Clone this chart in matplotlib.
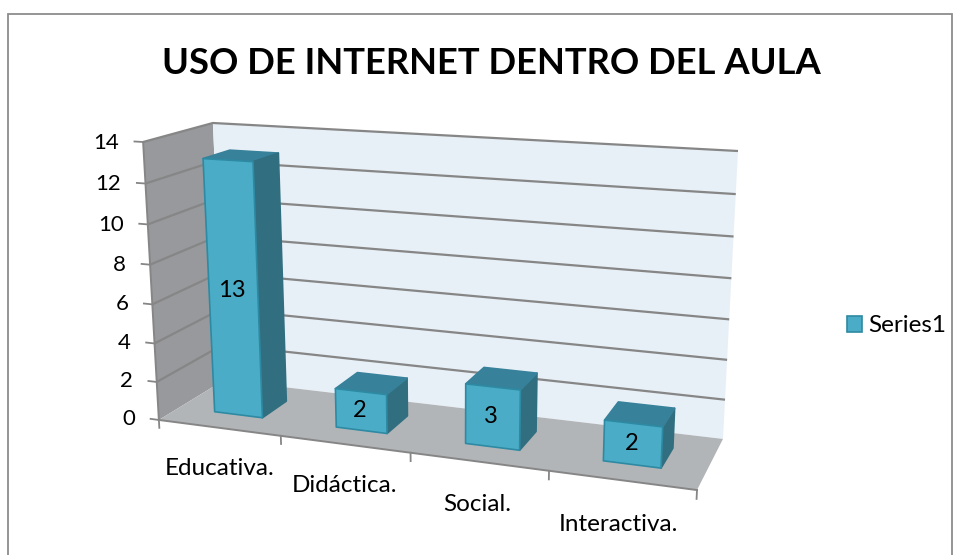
import numpy as np
import matplotlib
matplotlib.use('Agg')
import matplotlib.pyplot as plt
from matplotlib.patches import Patch, Rectangle
from mpl_toolkits.mplot3d.art3d import Poly3DCollection, Line3DCollection

plt.rcParams['font.family'] = ['Lato', 'DejaVu Sans']

# Data
categories = ['Educativa.', 'Didáctica.', 'Social.', 'Interactiva.']
values = [13, 2, 3, 2]
value_ticks = [0, 2, 4, 6, 8, 10, 12, 14]
series_name = 'Series1'
title = 'USO DE INTERNET DENTRO DEL AULA'

# Colours
FRONT = '#4AACC6'
TOP = '#37819A'
SIDE = '#316F80'
EDGE = '#2E8AA3'
WALL_BACK = '#E8F0F7'
WALL_LEFT = '#97999C'
FLOOR = '#B2B5B8'
LINE = '#868686'
NONE = (0, 0, 0, 0)

W, H = 961, 555
fig = plt.figure(figsize=(W / 100, H / 100), dpi=100, facecolor='white')
# 3d axes insist on being square, so let it overshoot the figure
ax = fig.add_axes([0, (H - W) / 2 / H, 1, W / H], projection='3d')
ax.set_axis_off()
ax.computed_zorder = False
ax.apply_aspect()

n = len(categories)
zmax = value_ticks[-1]

# box corners of the Excel chart (x, depth, value) and where they sit in the picture
corners = [(0, 0, 0), (n, 0, 0), (n, 1, 0), (0, 1, 0), (0, 0, zmax), (0, 1, zmax), (n, 1, zmax)]
pixels = [(159, 420), (697, 490), (723, 439), (224, 380), (143, 142), (213, 123), (738, 151)]

# camera matrix fitted on those corners, in the view coords of the axes
view = ax.transData.inverted().transform([(u, H - v) for u, v in pixels])
A, b = [], []
for (x, y, z), (u, v) in zip(corners, view):
    A.append([x, y, z, 1, 0, 0, 0, 0, -u * x, -u * y, -u * z])
    A.append([0, 0, 0, 0, x, y, z, 1, -v * x, -v * y, -v * z])
    b += [u, v]
p = np.linalg.lstsq(np.array(A), np.array(b), rcond=None)[0]
M = np.array([p[:4], p[4:8], [0, 1, 0, 0], [p[8], p[9], p[10], 1]])
ax.get_proj = lambda: M


def label(x, y, z, s, **kw):
    # put a plain figure text where the point (x, depth, value) lands
    u, v, w = M[[0, 1, 3]] @ np.array([x, y, z, 1.0])
    px = ax.transData.transform((u / w, v / w))
    fig.text(px[0] / W, px[1] / H, s, color='black', **kw)


# walls and floor
left_wall = [(0, 0, 0), (0, 1, 0), (0, 1, zmax), (0, 0, zmax)]
back_wall = [(0, 1, 0), (n, 1, 0), (n, 1, zmax), (0, 1, zmax)]
floor = [(0, 0, 0), (n, 0, 0), (n, 1, 0), (0, 1, 0)]
for poly, col, zo in [(left_wall, WALL_LEFT, 0.5), (back_wall, WALL_BACK, 0.5), (floor, FLOOR, 0.6)]:
    wall = Poly3DCollection([poly], facecolors=col, edgecolors='none')
    ax.add_collection3d(wall)
    wall.set_zorder(zo)

# gridlines, left wall then back wall
grid = []
for tick in value_ticks[1:]:
    grid.append([(0, 0, tick), (0, 1, tick), (n, 1, tick)])
ax.add_collection3d(Line3DCollection(grid, colors=LINE, linewidths=1.6, zorder=3))

# axis lines and ticks
ax.plot([0, 0], [0, 0], [0, zmax], color=LINE, lw=1.4, zorder=3)
ax.plot([0, n, n], [0, 0, 1], [0, 0, 0], color=LINE, lw=1.4, zorder=3)
for tick in value_ticks:
    ax.plot([-0.07, 0], [0, 0], [tick, tick], color=LINE, lw=1.3, zorder=3)
    label(-0.2, 0, tick - 0.12, str(tick), ha='right', va='center', fontsize=16)
for i in range(n + 1):
    ax.plot([i, i], [0, 0], [0, -0.42], color=LINE, lw=1.3, zorder=3)

# bars, one cuboid each (only the faces you can see get a colour)
bar_w = 0.4
bar_d = 0.4
for i, val in enumerate(values):
    x0 = i + 0.5 - bar_w / 2
    y0 = 0.5 - bar_d / 2
    face = [NONE, TOP, FRONT, NONE, NONE, SIDE]
    edge = [NONE, TOP, EDGE, NONE, NONE, SIDE]
    ax.bar3d(x0, y0, 0, bar_w, bar_d, val, color=face, edgecolor=edge, linewidth=1.2,
             shade=False, zorder=5 + i)
    label(i + 0.49, y0, val / 2, str(val), ha='center', va='center', fontsize=17)
    label(i + 0.49, 0, -2.15, categories[i], ha='center', va='center', fontsize=17.5)

fig.text(491 / W, 1 - 63 / H, title, ha='center', va='center', fontsize=26.2,
         fontweight='bold', color='black')

fig.legend(handles=[Patch(facecolor=FRONT, edgecolor=EDGE, linewidth=1.2, label=series_name)],
           loc='center left', bbox_to_anchor=(825 / W, 1 - 326 / H), frameon=False,
           fontsize=17.5, handlelength=0.62, handleheight=0.62, handletextpad=0.25)

# chart frame, runs off the bottom of the picture
fig.add_artist(Rectangle((8 / W, -0.05), 944 / W, 1.05 - 14 / H, transform=fig.transFigure,
                         facecolor='none', edgecolor='#8C8C8C', linewidth=1.3))

fig.savefig('out.png', dpi=100)
